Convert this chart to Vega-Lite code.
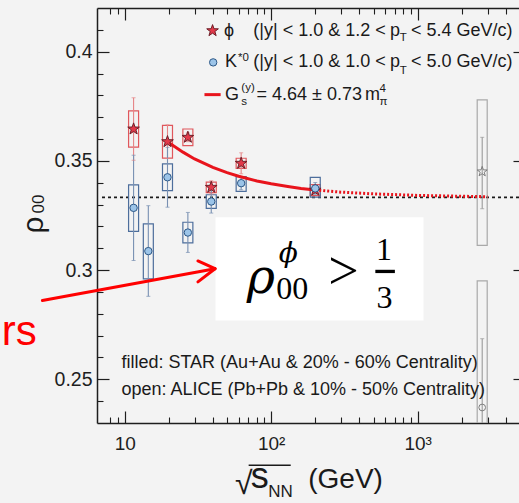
{
  "$schema": "https://vega.github.io/schema/vega-lite/v6.json",
  "width": 422,
  "height": 415,
  "autosize": "none",
  "padding": {"left": 97, "top": 8, "right": 0, "bottom": 80},
  "background": "#f3f3f3",
  "config": {
    "view": {"stroke": null},
    "axis": {"grid": false, "domainColor": "#1e1e1e", "tickColor": "#1e1e1e", "labelColor": "#1e1e1e", "labelFont": "Liberation Sans"}
  },
  "resolve": {"axis": {"x": "independent", "y": "independent"}},
  "datasets": {
    "pts": [
      {"exp": "STAR", "s": "phi", "E": 11.5, "rho": 0.3646, "stat_lo": 0.3503, "stat_hi": 0.3789, "sys_lo": 0.3563, "sys_hi": 0.3729},
      {"exp": "STAR", "s": "phi", "E": 19.6, "rho": 0.3588, "stat_lo": 0.3511, "stat_hi": 0.3665, "sys_lo": 0.3513, "sys_hi": 0.3663},
      {"exp": "STAR", "s": "phi", "E": 27, "rho": 0.3608, "stat_lo": 0.3588, "stat_hi": 0.3628, "sys_lo": 0.357, "sys_hi": 0.3646},
      {"exp": "STAR", "s": "phi", "E": 39, "rho": 0.3379, "stat_lo": 0.3349, "stat_hi": 0.3409, "sys_lo": 0.3355, "sys_hi": 0.3403},
      {"exp": "STAR", "s": "phi", "E": 62.4, "rho": 0.3489, "stat_lo": 0.3441, "stat_hi": 0.3537, "sys_lo": 0.3466, "sys_hi": 0.3512},
      {"exp": "STAR", "s": "phi", "E": 200, "rho": 0.3366, "stat_lo": 0.3354, "stat_hi": 0.3378, "sys_lo": 0.3341, "sys_hi": 0.3391},
      {"exp": "STAR", "s": "K", "E": 11.5, "rho": 0.3285, "stat_lo": 0.3044, "stat_hi": 0.3526, "sys_lo": 0.3177, "sys_hi": 0.339},
      {"exp": "STAR", "s": "K", "E": 14.5, "rho": 0.3087, "stat_lo": 0.288, "stat_hi": 0.3295, "sys_lo": 0.296, "sys_hi": 0.3212},
      {"exp": "STAR", "s": "K", "E": 19.6, "rho": 0.3425, "stat_lo": 0.3288, "stat_hi": 0.3562, "sys_lo": 0.3364, "sys_hi": 0.3486},
      {"exp": "STAR", "s": "K", "E": 27, "rho": 0.3172, "stat_lo": 0.3081, "stat_hi": 0.3264, "sys_lo": 0.3125, "sys_hi": 0.3219},
      {"exp": "STAR", "s": "K", "E": 39, "rho": 0.3314, "stat_lo": 0.3261, "stat_hi": 0.3367, "sys_lo": 0.3283, "sys_hi": 0.3345},
      {"exp": "STAR", "s": "K", "E": 62.4, "rho": 0.3398, "stat_lo": 0.3368, "stat_hi": 0.3428, "sys_lo": 0.336, "sys_hi": 0.3428},
      {"exp": "STAR", "s": "K", "E": 200, "rho": 0.3374, "stat_lo": 0.3347, "stat_hi": 0.3401, "sys_lo": 0.3334, "sys_hi": 0.3425},
      {"exp": "ALICE", "s": "phi", "E": 2760, "rho": 0.3451, "stat_lo": 0.3281, "stat_hi": 0.3608, "sys_lo": 0.3113, "sys_hi": 0.3779},
      {"exp": "ALICE", "s": "K", "E": 2760, "rho": 0.2371, "stat_lo": 0.2056, "stat_hi": 0.2686, "sys_lo": 0.1791, "sys_hi": 0.2951}
    ],
    "fit": [
      {"seg": "fit", "E": 19.6, "rho": 0.3588},
      {"seg": "fit", "E": 25, "rho": 0.354},
      {"seg": "fit", "E": 30, "rho": 0.3509},
      {"seg": "fit", "E": 40, "rho": 0.347},
      {"seg": "fit", "E": 50, "rho": 0.3446},
      {"seg": "fit", "E": 60, "rho": 0.343},
      {"seg": "fit", "E": 80, "rho": 0.3408},
      {"seg": "fit", "E": 100, "rho": 0.3395},
      {"seg": "fit", "E": 130, "rho": 0.3383},
      {"seg": "fit", "E": 160, "rho": 0.3374},
      {"seg": "fit", "E": 200, "rho": 0.3367},
      {"seg": "ext", "E": 200, "rho": 0.3367},
      {"seg": "ext", "E": 300, "rho": 0.3357},
      {"seg": "ext", "E": 500, "rho": 0.3349},
      {"seg": "ext", "E": 1000, "rho": 0.3342},
      {"seg": "ext", "E": 2000, "rho": 0.3338},
      {"seg": "ext", "E": 3000, "rho": 0.3336}
    ]
  },
  "layer": [
    {
      "data": {"values": [{"E": 7, "E2": 5000, "rho": 0.33333}]},
      "mark": {"type": "rule", "strokeDash": [3, 3], "strokeWidth": 1.8, "color": "#1a1a1a", "clip": true},
      "encoding": {
        "x": {"field": "E", "type": "quantitative", "scale": {"type": "log", "domain": [7, 5000], "range": [0, 428], "nice": false}, "axis": null},
        "x2": {"field": "E2"},
        "y": {"field": "rho", "type": "quantitative", "scale": {"domain": [0.23, 0.42], "nice": false, "zero": false}, "axis": null}
      }
    },
    {
      "data": {"name": "pts"},
      "mark": {"type": "bar", "orient": "vertical", "width": 10, "fill": "transparent", "strokeWidth": 1.2, "clip": true},
      "encoding": {
        "x": {"field": "E", "type": "quantitative",
              "axis": {"orient": "bottom", "values": [10, 100, 1000], "labelExpr": "datum.value == 10 ? '10' : datum.value == 100 ? '10²' : '10³'",
                       "tickSize": -12, "tickWidth": 1.2, "labelPadding": 23, "labelFontSize": 19, "domain": true, "domainWidth": 1.5,
                       "title": null, "labelFlush": false, "labelOverlap": false}},
        "y": {"field": "sys_lo", "type": "quantitative",
              "axis": {"orient": "left", "values": [0.25, 0.3, 0.35, 0.4], "format": "~g", "tickSize": -12, "tickWidth": 1.2,
                       "labelPadding": 17, "labelFontSize": 19.5, "domain": true, "domainWidth": 1.5, "title": null,
                       "labelFlush": false, "labelOverlap": false}},
        "y2": {"field": "sys_hi"},
        "stroke": {"condition": [{"test": "datum.exp === 'ALICE'", "value": "#a9a9a9"}, {"test": "datum.s === 'phi'", "value": "#e0575c"}], "value": "#4d6e9c"}
      }
    },
    {
      "data": {"name": "pts"},
      "mark": {"type": "rule", "strokeWidth": 1.1, "clip": true},
      "encoding": {
        "x": {"field": "E", "type": "quantitative",
              "axis": {"orient": "bottom", "values": [8, 9, 20, 30, 40, 50, 60, 70, 80, 90, 200, 300, 400, 500, 600, 700, 800, 900, 2000, 3000, 4000],
                       "tickSize": -6, "tickWidth": 1.1, "labels": false, "domain": false, "title": null}},
        "y": {"field": "stat_lo", "type": "quantitative",
              "axis": {"orient": "left", "values": [0.24, 0.26, 0.27, 0.28, 0.29, 0.31, 0.32, 0.33, 0.34, 0.36, 0.37, 0.38, 0.39, 0.41],
                       "tickSize": -6, "tickWidth": 1.1, "labels": false, "domain": false, "title": null}},
        "y2": {"field": "stat_hi"},
        "stroke": {"condition": [{"test": "datum.exp === 'ALICE'", "value": "#9a9a9a"}, {"test": "datum.s === 'phi'", "value": "#e68486"}], "value": "#7890b2"}
      }
    },
    {
      "data": {"name": "pts"},
      "mark": {"type": "tick", "orient": "horizontal", "size": 4, "thickness": 1, "clip": true},
      "encoding": {
        "x": {"field": "E", "type": "quantitative", "axis": null},
        "y": {"field": "stat_lo", "type": "quantitative", "axis": null},
        "color": {"condition": [{"test": "datum.exp === 'ALICE'", "value": "#9a9a9a"}, {"test": "datum.s === 'phi'", "value": "#e68486"}], "value": "#7890b2"}
      }
    },
    {
      "data": {"name": "pts"},
      "mark": {"type": "tick", "orient": "horizontal", "size": 4, "thickness": 1, "clip": true},
      "encoding": {
        "x": {"field": "E", "type": "quantitative", "axis": null},
        "y": {"field": "stat_hi", "type": "quantitative", "axis": null},
        "color": {"condition": [{"test": "datum.exp === 'ALICE'", "value": "#9a9a9a"}, {"test": "datum.s === 'phi'", "value": "#e68486"}], "value": "#7890b2"}
      }
    },
    {
      "data": {"name": "fit"},
      "transform": [{"filter": "datum.seg === 'fit'"}],
      "mark": {"type": "line", "color": "#e8141c", "strokeWidth": 3, "clip": true},
      "encoding": {
        "x": {"field": "E", "type": "quantitative",
              "axis": {"orient": "top", "values": [10, 100, 1000], "tickSize": -12, "tickWidth": 1.2, "labels": false, "domain": true, "domainWidth": 1.5, "title": null}},
        "y": {"field": "rho", "type": "quantitative",
              "axis": {"orient": "right", "offset": 6, "values": [0.25, 0.3, 0.35, 0.4], "tickSize": -12, "tickWidth": 1.2, "labels": false, "domain": true, "domainWidth": 1.5, "title": null}}
      }
    },
    {
      "data": {"name": "fit"},
      "transform": [{"filter": "datum.seg === 'ext'"}],
      "mark": {"type": "line", "color": "#e8141c", "strokeWidth": 3, "strokeDash": [2, 2], "clip": true},
      "encoding": {
        "x": {"field": "E", "type": "quantitative",
              "axis": {"orient": "top", "values": [8, 9, 20, 30, 40, 50, 60, 70, 80, 90, 200, 300, 400, 500, 600, 700, 800, 900, 2000, 3000, 4000],
                       "tickSize": -6, "tickWidth": 1.1, "labels": false, "domain": false, "title": null}},
        "y": {"field": "rho", "type": "quantitative",
              "axis": {"orient": "right", "offset": 6, "values": [0.24, 0.26, 0.27, 0.28, 0.29, 0.31, 0.32, 0.33, 0.34, 0.36, 0.37, 0.38, 0.39, 0.41],
                       "tickSize": -6, "tickWidth": 1.1, "labels": false, "domain": false, "title": null}}
      }
    },
    {
      "data": {"name": "pts"},
      "mark": {"type": "point", "filled": true, "strokeWidth": 1, "opacity": 1, "clip": true},
      "encoding": {
        "x": {"field": "E", "type": "quantitative", "axis": null},
        "y": {"field": "rho", "type": "quantitative", "axis": null},
        "shape": {"condition": {"test": "datum.s === 'phi'", "value": "M0,-1L0.235,-0.324L0.951,-0.309L0.38,0.124L0.588,0.809L0,0.4L-0.588,0.809L-0.38,0.124L-0.951,-0.309L-0.235,-0.324Z"}, "value": "circle"},
        "size": {"condition": [{"test": "datum.exp === 'ALICE' && datum.s === 'phi'", "value": 110}, {"test": "datum.s === 'phi'", "value": 150}, {"test": "datum.exp === 'ALICE'", "value": 45}], "value": 55},
        "fill": {"condition": [{"test": "datum.exp === 'ALICE'", "value": "transparent"}, {"test": "datum.s === 'phi'", "value": "#e2394a"}], "value": "#9cc4e8"},
        "stroke": {"condition": [{"test": "datum.exp === 'ALICE'", "value": "#7d7d7d"}, {"test": "datum.s === 'phi'", "value": "#6e1f28"}], "value": "#2d5887"}
      }
    },
    {
      "data": {"values": [
        {"s": "phi", "E": 39.8, "rho": 0.4096},
        {"s": "K", "E": 40.2, "rho": 0.3951}
      ]},
      "mark": {"type": "point", "filled": true, "strokeWidth": 1, "opacity": 1},
      "encoding": {
        "x": {"field": "E", "type": "quantitative", "axis": null},
        "y": {"field": "rho", "type": "quantitative", "axis": null},
        "shape": {"condition": {"test": "datum.s === 'phi'", "value": "M0,-1L0.235,-0.324L0.951,-0.309L0.38,0.124L0.588,0.809L0,0.4L-0.588,0.809L-0.38,0.124L-0.951,-0.309L-0.235,-0.324Z"}, "value": "circle"},
        "size": {"condition": {"test": "datum.s === 'phi'", "value": 150}, "value": 55},
        "fill": {"condition": {"test": "datum.s === 'phi'", "value": "#e2394a"}, "value": "#9cc4e8"},
        "stroke": {"condition": {"test": "datum.s === 'phi'", "value": "#6e1f28"}, "value": "#2d5887"}
      }
    },
    {
      "data": {"values": [{"E": 35.05, "E2": 45.2, "rho": 0.38034}]},
      "mark": {"type": "rule", "color": "#e8141c", "strokeWidth": 3},
      "encoding": {
        "x": {"field": "E", "type": "quantitative", "axis": null},
        "x2": {"field": "E2"},
        "y": {"field": "rho", "type": "quantitative", "axis": null}
      }
    },
    {
      "data": {"values": [
        {"t": "ϕ", "E": 47.6, "rho": 0.4096},
        {"t": "(|y| < 1.0 & 1.2 <", "E": 75.5, "rho": 0.4096},
        {"t": "p", "E": 647.6, "rho": 0.4096},
        {"t": "< 5.4 GeV/c)", "E": 901.6, "rho": 0.4096},
        {"t": "K", "E": 48.4, "rho": 0.3951},
        {"t": "(|y| < 1.0 & 1.0 <", "E": 75.5, "rho": 0.3951},
        {"t": "p", "E": 647.6, "rho": 0.3951},
        {"t": "< 5.0 GeV/c)", "E": 901.6, "rho": 0.3951},
        {"t": "G", "E": 48.4, "rho": 0.38034},
        {"t": "= 4.64 ± 0.73", "E": 79.4, "rho": 0.38034},
        {"t": "m", "E": 436.5, "rho": 0.38034}
      ]},
      "mark": {"type": "text", "align": "left", "baseline": "middle", "font": "Liberation Sans", "fontSize": 18, "color": "#1a1a1a"},
      "encoding": {
        "x": {"field": "E", "type": "quantitative", "axis": null},
        "y": {"field": "rho", "type": "quantitative", "axis": null},
        "text": {"field": "t"}
      }
    },
    {
      "data": {"values": [
        {"t": "T", "E": 755, "rho": 0.40617},
        {"t": "*0", "E": 59.3, "rho": 0.397},
        {"t": "T", "E": 755, "rho": 0.39131},
        {"t": "(y)", "E": 62.6, "rho": 0.3832},
        {"t": "s", "E": 62.6, "rho": 0.3769},
        {"t": "4", "E": 549.5, "rho": 0.3829},
        {"t": "π", "E": 549.5, "rho": 0.3769}
      ]},
      "mark": {"type": "text", "align": "left", "baseline": "middle", "font": "Liberation Sans", "fontSize": 11.5, "color": "#1a1a1a"},
      "encoding": {
        "x": {"field": "E", "type": "quantitative", "axis": null},
        "y": {"field": "rho", "type": "quantitative", "axis": null},
        "text": {"field": "t"}
      }
    },
    {
      "data": {"values": [
        {"t": "filled: STAR (Au+Au & 20% - 60% Centrality)", "E": 9.5, "rho": 0.25746},
        {"t": "open: ALICE (Pb+Pb & 10% - 50% Centrality)", "E": 9.5, "rho": 0.24497}
      ]},
      "mark": {"type": "text", "align": "left", "baseline": "middle", "font": "Liberation Sans", "fontSize": 18, "color": "#1a1a1a"},
      "encoding": {
        "x": {"field": "E", "type": "quantitative", "axis": null},
        "y": {"field": "rho", "type": "quantitative", "axis": null},
        "text": {"field": "t"}
      }
    },
    {
      "data": {"values": [{"E": 41.69, "E2": 1096.5, "rho": 0.27698, "rho2": 0.32422}]},
      "mark": {"type": "rect", "fill": "#ffffff"},
      "encoding": {
        "x": {"field": "E", "type": "quantitative", "axis": null},
        "x2": {"field": "E2"},
        "y": {"field": "rho", "type": "quantitative", "axis": null},
        "y2": {"field": "rho2"}
      }
    },
    {
      "data": {"values": [{"t": "ρ", "E": 68.1, "rho": 0.28933}]},
      "mark": {"type": "text", "align": "left", "baseline": "alphabetic", "font": "DejaVu Serif", "fontStyle": "italic", "fontSize": 48, "color": "#000000"},
      "encoding": {
        "x": {"field": "E", "type": "quantitative", "axis": null},
        "y": {"field": "rho", "type": "quantitative", "axis": null},
        "text": {"field": "t"}
      }
    },
    {
      "data": {"values": [{"t": "ϕ", "E": 130.8, "rho": 0.30749}]},
      "mark": {"type": "text", "align": "center", "baseline": "middle", "font": "DejaVu Serif", "fontStyle": "italic", "fontSize": 28, "color": "#000000"},
      "encoding": {
        "x": {"field": "E", "type": "quantitative", "axis": null},
        "y": {"field": "rho", "type": "quantitative", "axis": null},
        "text": {"field": "t"}
      }
    },
    {
      "data": {"values": [
        {"t": "00", "E": 139.5, "rho": 0.2869},
        {"t": "1", "E": 588.8, "rho": 0.30442},
        {"t": "3", "E": 593.4, "rho": 0.28247}
      ]},
      "mark": {"type": "text", "align": "center", "baseline": "alphabetic", "font": "Liberation Serif", "fontSize": 32, "color": "#000000"},
      "encoding": {
        "x": {"field": "E", "type": "quantitative", "axis": null},
        "y": {"field": "rho", "type": "quantitative", "axis": null},
        "text": {"field": "t"}
      }
    },
    {
      "data": {"values": [{"t": ">", "E": 311.5, "rho": 0.2988}]},
      "mark": {"type": "text", "align": "center", "baseline": "middle", "font": "Liberation Serif", "fontSize": 54, "color": "#000000"},
      "encoding": {
        "x": {"field": "E", "type": "quantitative", "axis": null},
        "y": {"field": "rho", "type": "quantitative", "axis": null},
        "text": {"field": "t"}
      }
    },
    {
      "data": {"values": [{"E": 514.4, "E2": 699.4, "rho": 0.29939}]},
      "mark": {"type": "rule", "color": "#000000", "strokeWidth": 3.3},
      "encoding": {
        "x": {"field": "E", "type": "quantitative", "axis": null},
        "x2": {"field": "E2"},
        "y": {"field": "rho", "type": "quantitative", "axis": null}
      }
    },
    {
      "data": {"values": [
        {"E": 2.742, "rho": 0.28613, "E2": 41.37, "rho2": 0.30063},
        {"E": 31.62, "rho": 0.30419, "E2": 41.37, "rho2": 0.30063},
        {"E": 31.62, "rho": 0.29459, "E2": 41.37, "rho2": 0.30063}
      ]},
      "mark": {"type": "rule", "color": "#ff0000", "strokeWidth": 3, "strokeCap": "round"},
      "encoding": {
        "x": {"field": "E", "type": "quantitative", "axis": null},
        "x2": {"field": "E2"},
        "y": {"field": "rho", "type": "quantitative", "axis": null},
        "y2": {"field": "rho2"}
      }
    },
    {
      "data": {"values": [{"t": "rs", "E": 2.512, "rho": 0.26555}]},
      "mark": {"type": "text", "align": "right", "baseline": "alphabetic", "font": "Liberation Sans", "fontSize": 42, "color": "#ff0000"},
      "encoding": {
        "x": {"field": "E", "type": "quantitative", "axis": null},
        "y": {"field": "rho", "type": "quantitative", "axis": null},
        "text": {"field": "t"}
      }
    },
    {
      "data": {"values": [{"t": "ρ", "E": 2.78, "rho": 0.31677}]},
      "mark": {"type": "text", "align": "left", "baseline": "alphabetic", "angle": 270, "font": "Liberation Sans", "fontSize": 30, "color": "#1a1a1a"},
      "encoding": {
        "x": {"field": "E", "type": "quantitative", "axis": null},
        "y": {"field": "rho", "type": "quantitative", "axis": null},
        "text": {"field": "t"}
      }
    },
    {
      "data": {"values": [{"t": "00", "E": 2.8, "rho": 0.32592}]},
      "mark": {"type": "text", "align": "left", "baseline": "alphabetic", "angle": 270, "font": "Liberation Sans", "fontSize": 17, "color": "#1a1a1a"},
      "encoding": {
        "x": {"field": "E", "type": "quantitative", "axis": null},
        "y": {"field": "rho", "type": "quantitative", "axis": null},
        "text": {"field": "t"}
      }
    },
    {
      "data": {"values": [{"t": "√", "E": 56.7, "rho": 0.19741}]},
      "mark": {"type": "text", "align": "left", "baseline": "alphabetic", "font": "Liberation Sans", "fontSize": 32, "color": "#1a1a1a"},
      "encoding": {
        "x": {"field": "E", "type": "quantitative", "axis": null},
        "y": {"field": "rho", "type": "quantitative", "axis": null},
        "text": {"field": "t"}
      }
    },
    {
      "data": {"values": [{"t": "s", "E": 72.5, "rho": 0.20016}]},
      "mark": {"type": "text", "align": "left", "baseline": "alphabetic", "font": "Liberation Sans", "fontSize": 36, "color": "#1a1a1a"},
      "encoding": {
        "x": {"field": "E", "type": "quantitative", "axis": null},
        "y": {"field": "rho", "type": "quantitative", "axis": null},
        "text": {"field": "t"}
      }
    },
    {
      "data": {"values": [{"t": "NN", "E": 95.5, "rho": 0.19604}]},
      "mark": {"type": "text", "align": "left", "baseline": "alphabetic", "font": "Liberation Sans", "fontSize": 17, "color": "#1a1a1a"},
      "encoding": {
        "x": {"field": "E", "type": "quantitative", "axis": null},
        "y": {"field": "rho", "type": "quantitative", "axis": null},
        "text": {"field": "t"}
      }
    },
    {
      "data": {"values": [{"t": "(GeV)", "E": 179.2, "rho": 0.20016}]},
      "mark": {"type": "text", "align": "left", "baseline": "alphabetic", "font": "Liberation Sans", "fontSize": 28, "color": "#1a1a1a"},
      "encoding": {
        "x": {"field": "E", "type": "quantitative", "axis": null},
        "y": {"field": "rho", "type": "quantitative", "axis": null},
        "text": {"field": "t"}
      }
    },
    {
      "data": {"values": [{"E": 70.2, "E2": 136, "rho": 0.21068}]},
      "mark": {"type": "rule", "color": "#1a1a1a", "strokeWidth": 1.5},
      "encoding": {
        "x": {"field": "E", "type": "quantitative", "axis": null},
        "x2": {"field": "E2"},
        "y": {"field": "rho", "type": "quantitative", "axis": null}
      }
    }
  ]
}
